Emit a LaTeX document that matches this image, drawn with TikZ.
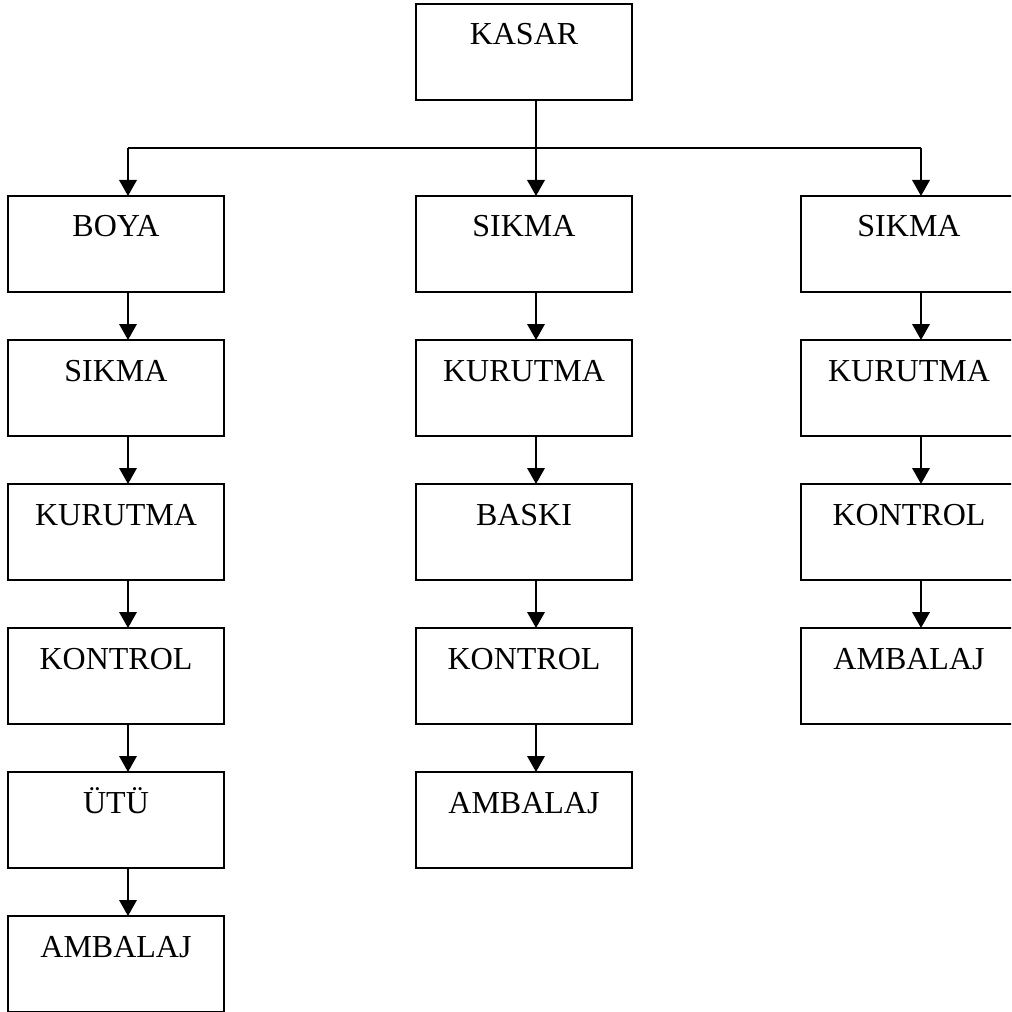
\documentclass[tikz,border=0pt]{standalone}
\usepackage{fontspec}
\setmainfont{Liberation Serif}
\usetikzlibrary{arrows.meta}

\tikzset{
  stepbox/.style={draw, line width=1.4pt, rectangle, anchor=north west,
    inner sep=0pt, outer sep=0pt, minimum width=162pt, minimum height=72pt,
    text height=30.75pt, text depth=41.25pt,
    font=\fontsize{24}{28}\selectfont},
  flow/.style={line width=1.9pt, -{Triangle[width=13pt,length=12pt]}},
  rail/.style={line width=1.6pt},
  stem/.style={line width=1.2pt}
}

\begin{document}
\begin{tikzpicture}[x=0.75pt, y=-0.75pt]
  \clip (0,0) rectangle (1011,1012);
  \fill[white] (0,0) rectangle (1011,1012);

  % top stage
  \node[stepbox] (kasar) at (416,4) {KASAR};

  % left branch
  \node[stepbox] (l1) at (8,196) {BOYA};
  \node[stepbox] (l2) at (8,340) {SIKMA};
  \node[stepbox] (l3) at (8,484) {KURUTMA};
  \node[stepbox] (l4) at (8,628) {KONTROL};
  \node[stepbox] (l5) at (8,772) {ÜTÜ};
  \node[stepbox] (l6) at (8,916) {AMBALAJ};

  % middle branch
  \node[stepbox] (m1) at (416,196) {SIKMA};
  \node[stepbox] (m2) at (416,340) {KURUTMA};
  \node[stepbox] (m3) at (416,484) {BASKI};
  \node[stepbox] (m4) at (416,628) {KONTROL};
  \node[stepbox] (m5) at (416,772) {AMBALAJ};

  % right branch
  \node[stepbox] (r1) at (801,196) {SIKMA};
  \node[stepbox] (r2) at (801,340) {KURUTMA};
  \node[stepbox] (r3) at (801,484) {KONTROL};
  \node[stepbox] (r4) at (801,628) {AMBALAJ};

  % distribution rail
  \coordinate (hub) at (536,148);
  \coordinate (hl) at (128,148);
  \coordinate (hr) at (921,148);
  \draw[stem] ([xshift=9pt]kasar.south) -- (hub);
  \draw[rail] (hl) -- (hr);
  \draw[flow] (hl) -- ([xshift=9pt]l1.north);
  \draw[flow] (hub) -- ([xshift=9pt]m1.north);
  \draw[flow] (hr) -- ([xshift=9pt]r1.north);

  % chains
  \foreach \a/\b in {l1/l2,l2/l3,l3/l4,l4/l5,l5/l6,m1/m2,m2/m3,m3/m4,m4/m5,r1/r2,r2/r3,r3/r4}
    \draw[flow] ([xshift=9pt]\a.south) -- ([xshift=9pt]\b.north);
\end{tikzpicture}
\end{document}
